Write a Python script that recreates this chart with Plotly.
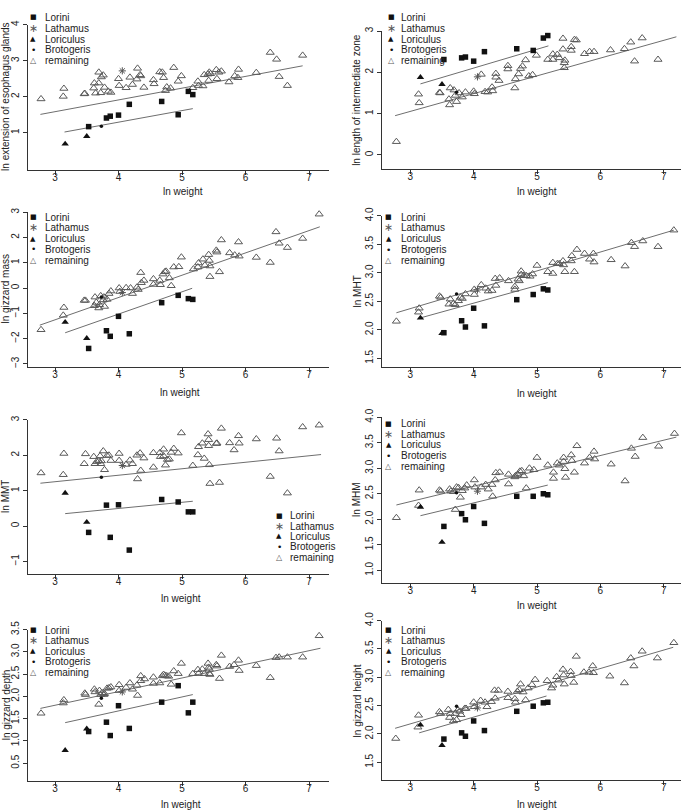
import plotly.graph_objects as go

W, H = 684, 812

# ---------------- data ----------------
weight_ticks = [3, 4, 5, 6, 7]
legend_labels = ["Lorini", "Lathamus", "Loriculus", "Brotogeris", "remaining"]

lorini_x = [3.53, 3.81, 3.87, 4.00, 4.17, 4.68, 4.94, 5.10, 5.17]
loriculus_x = [3.16, 3.50]
brotogeris_x = [3.73]
lathamus_x = [4.06]

# Panel 1: ln extension of esophagus glands
p1_rem_x = [2.78, 3.14, 3.13, 3.46, 3.47, 3.61, 3.62, 3.64, 3.69, 3.72, 3.69, 3.73, 3.76, 3.78, 3.84, 3.88,
            4.00, 4.01, 4.18, 4.12, 4.22, 4.29, 4.30, 4.34, 4.35, 4.40, 4.55, 4.56, 4.65, 4.69, 4.71, 4.74,
            4.76, 4.82, 4.87, 4.94, 4.99, 5.17, 5.25, 5.26, 5.33, 5.35, 5.41, 5.42, 5.43, 5.45, 5.54, 5.55,
            5.58, 5.62, 5.74, 5.83, 5.88, 5.89, 6.17, 6.39, 6.49, 6.53, 6.66, 6.90, 7.16]
p1_rem_y = [1.94, 2.23, 2.01, 2.08, 2.09, 2.24, 2.38, 2.10, 2.68, 2.11, 2.38, 2.55, 2.60, 2.26, 2.15, 2.12,
            2.50, 2.31, 2.54, 2.25, 2.34, 2.49, 2.79, 2.61, 2.58, 2.26, 2.47, 2.36, 2.69, 2.68, 2.53, 2.17,
            2.27, 2.24, 2.81, 2.43, 2.58, 2.25, 2.43, 2.31, 2.30, 2.61, 2.63, 2.45, 2.68, 2.64, 2.75, 2.50,
            2.68, 2.71, 2.41, 2.58, 2.53, 2.76, 2.67, 3.23, 3.04, 2.56, 2.31, 3.15, 4.13]
p1_lorini_y = [1.17, 1.41, 1.46, 1.49, 1.79, 1.87, 1.50, 2.15, 2.06]
p1_loriculus_y = [0.69, 0.90]
p1_brotogeris_y = [1.18]
p1_lathamus_y = [2.72]
p1_fit_rem_x, p1_fit_rem_y = [2.77, 6.90], [1.51, 2.86]
p1_fit_lor_x, p1_fit_lor_y = [3.15, 5.17], [1.02, 1.67]

# Panel 2: ln length of intermediate zone
p2_rem_x = [2.78, 3.13, 3.14, 3.46, 3.47, 3.61, 3.62, 3.63, 3.69, 3.71, 3.73, 3.77, 3.82, 3.87, 4.00, 4.01,
            4.12, 4.18, 4.22, 4.29, 4.30, 4.35, 4.35, 4.40, 4.54, 4.54, 4.65, 4.66, 4.71, 4.74, 4.77, 4.82,
            4.87, 4.93, 4.99, 5.17, 5.25, 5.25, 5.32, 5.35, 5.41, 5.41, 5.43, 5.44, 5.43, 5.54, 5.54, 5.59,
            5.62, 5.75, 5.83, 5.90, 5.89, 6.16, 6.38, 6.48, 6.54, 6.66, 6.91, 7.16]
p2_rem_y = [0.32, 1.47, 1.26, 1.51, 1.50, 1.35, 1.21, 1.62, 1.57, 1.44, 1.29, 1.50, 1.40, 1.52, 1.54, 1.48,
            1.95, 1.53, 1.52, 1.64, 1.55, 1.97, 1.88, 1.80, 2.16, 2.08, 1.62, 1.84, 1.96, 2.09, 2.15, 2.30,
            1.91, 1.94, 2.41, 2.31, 2.31, 2.44, 2.43, 2.35, 2.82, 2.56, 2.23, 2.29, 2.11, 2.53, 2.62, 2.79,
            2.78, 2.45, 2.50, 2.50, 3.18, 2.54, 2.57, 2.73, 2.27, 2.83, 2.31, 3.19]
p2_lorini_y = [2.31, 2.35, 2.37, 2.27, 2.50, 2.57, 2.53, 2.83, 2.89]
p2_loriculus_y = [1.88, 1.71]
p2_brotogeris_y = [1.52]
p2_lathamus_y = [1.89]
p2_fit_rem_x, p2_fit_rem_y = [2.76, 7.20], [0.95, 2.86]
p2_fit_lor_x, p2_fit_lor_y = [3.16, 5.18], [1.72, 2.64]

# Panel 3: ln gizzard mass
p3_rem_x = [2.78, 3.14, 3.13, 3.46, 3.48, 3.62, 3.63, 3.65, 3.69, 3.70, 3.72, 3.76, 3.77, 3.78, 3.82, 3.85,
            3.88, 4.01, 4.02, 4.12, 4.19, 4.22, 4.29, 4.31, 4.35, 4.36, 4.40, 4.55, 4.55, 4.65, 4.66, 4.70,
            4.73, 4.75, 4.80, 4.83, 4.87, 4.95, 4.99, 5.18, 5.25, 5.26, 5.33, 5.36, 5.42, 5.43, 5.44, 5.44,
            5.54, 5.55, 5.59, 5.62, 5.75, 5.83, 5.89, 5.90, 6.17, 6.39, 6.48, 6.53, 6.66, 6.90, 7.16]
p3_rem_y = [-1.65, -0.77, -1.08, -0.49, -0.49, -0.70, -0.36, -0.57, -0.79, -0.66, -0.31, -0.47, -0.36, -0.73,
            -0.45, -0.22, -0.12, 0.00, -0.14, 0.01, 0.00, -0.22, 0.03, -0.06, 0.61, 0.21, 0.30, 0.36, 0.14,
            0.30, 0.13, 0.55, 0.64, 0.66, 0.40, 0.09, 0.83, 0.84, 1.22, 0.75, 0.83, 0.99, 1.14, 0.90, 1.32,
            1.09, 0.87, 0.45, 1.49, 1.42, 0.64, 1.90, 1.39, 1.30, 1.82, 1.26, 1.21, 1.01, 2.22, 1.77, 1.60,
            1.96, 2.92]
p3_lorini_y = [-2.39, -1.69, -1.91, -1.12, -1.81, -0.58, -0.29, -0.42, -0.45]
p3_loriculus_y = [-1.35, -1.99]
p3_brotogeris_y = [-0.36]
p3_lathamus_y = [-0.18]
p3_fit_rem_x, p3_fit_rem_y = [2.76, 7.17], [-1.47, 2.42]
p3_fit_lor_x, p3_fit_lor_y = [3.16, 5.16], [-1.77, -0.01]

# Panel 4: ln MHT
p4_rem_x = [2.78, 3.14, 3.13, 3.46, 3.48, 3.61, 3.63, 3.68, 3.71, 3.76, 3.79, 3.82, 3.87, 4.01, 4.01, 4.12,
            4.19, 4.23, 4.29, 4.35, 4.34, 4.41, 4.55, 4.65, 4.65, 4.70, 4.72, 4.75, 4.75, 4.79, 4.83, 4.89,
            4.93, 5.00, 5.17, 5.25, 5.25, 5.32, 5.35, 5.41, 5.42, 5.44, 5.54, 5.55, 5.59, 5.63, 5.75, 5.83,
            5.89, 5.90, 6.17, 6.39, 6.49, 6.54, 6.67, 6.91, 7.16]
p4_rem_y = [2.15, 2.38, 2.31, 2.59, 2.57, 2.45, 2.54, 2.46, 2.44, 2.51, 2.57, 2.55, 2.63, 2.71, 2.62, 2.79,
            2.73, 2.68, 2.69, 2.78, 2.90, 2.91, 2.86, 2.76, 2.71, 2.89, 2.86, 3.03, 2.97, 2.95, 2.95, 2.94,
            2.98, 3.13, 3.02, 3.18, 2.99, 3.16, 3.16, 3.21, 3.14, 3.02, 3.21, 3.30, 3.02, 3.41, 3.34, 3.24,
            3.34, 3.19, 3.23, 3.12, 3.53, 3.46, 3.56, 3.46, 3.75]
p4_lorini_y = [1.95, 2.16, 2.05, 2.38, 2.07, 2.53, 2.62, 2.72, 2.70]
p4_loriculus_y = [2.21, 1.94]
p4_brotogeris_y = [2.63]
p4_lathamus_y = [2.70]
p4_fit_rem_x, p4_fit_rem_y = [2.78, 7.16], [2.30, 3.75]
p4_fit_lor_x, p4_fit_lor_y = [3.16, 5.17], [2.21, 2.83]

# Panel 5: ln MMT
p5_rem_x = [2.78, 3.14, 3.13, 3.46, 3.48, 3.61, 3.63, 3.66, 3.69, 3.71, 3.72, 3.73, 3.76, 3.78, 3.82, 3.85,
            3.88, 4.01, 4.01, 4.12, 4.18, 4.22, 4.29, 4.30, 4.34, 4.35, 4.40, 4.55, 4.55, 4.65, 4.66, 4.71,
            4.71, 4.74, 4.77, 4.80, 4.83, 4.87, 4.94, 4.99, 5.17, 5.25, 5.26, 5.32, 5.35, 5.41, 5.42, 5.42,
            5.43, 5.44, 5.54, 5.55, 5.59, 5.62, 5.75, 5.82, 5.89, 5.90, 6.17, 6.39, 6.49, 6.53, 6.66, 6.90,
            7.16]
p5_rem_y = [1.50, 2.05, 1.45, 1.76, 2.04, 1.96, 1.76, 1.82, 1.84, 1.98, 1.76, 1.84, 2.12, 1.59, 1.99, 2.00,
            1.85, 2.05, 1.85, 1.74, 1.86, 1.76, 2.00, 1.33, 2.06, 1.57, 1.92, 2.07, 1.66, 2.07, 1.96, 2.17,
            1.98, 1.72, 1.88, 1.89, 2.08, 2.19, 2.06, 2.63, 1.71, 2.01, 2.24, 2.34, 1.91, 2.60, 2.44, 2.27,
            1.73, 1.20, 2.33, 2.34, 1.23, 2.76, 2.35, 2.15, 2.55, 2.34, 2.46, 1.40, 2.48, 2.12, 0.93, 2.80,
            2.85]
p5_lorini_y = [-0.18, 0.59, -0.32, 0.60, -0.68, 0.75, 0.68, 0.40, 0.40]
p5_loriculus_y = [0.93, 0.11]
p5_brotogeris_y = [1.38]
p5_lathamus_y = [1.71]
p5_fit_rem_x, p5_fit_rem_y = [2.77, 7.19], [1.21, 2.02]
p5_fit_lor_x, p5_fit_lor_y = [3.16, 5.17], [0.35, 0.70]

# Panel 6: ln MHM
p6_rem_x = [2.78, 3.14, 3.13, 3.46, 3.48, 3.62, 3.64, 3.68, 3.71, 3.73, 3.76, 3.79, 3.82, 3.86, 3.89, 4.01,
            4.02, 4.12, 4.19, 4.23, 4.29, 4.30, 4.35, 4.41, 4.34, 4.55, 4.55, 4.65, 4.66, 4.70, 4.73, 4.76,
            4.79, 4.83, 4.88, 4.95, 5.00, 5.17, 5.26, 5.26, 5.32, 5.35, 5.42, 5.42, 5.44, 5.45, 5.54, 5.55,
            5.59, 5.63, 5.75, 5.83, 5.90, 5.91, 6.17, 6.39, 6.49, 6.55, 6.67, 6.92, 7.17]
p6_rem_y = [2.03, 2.57, 2.27, 2.57, 2.55, 2.59, 2.55, 2.54, 2.19, 2.63, 2.62, 2.43, 2.56, 2.61, 2.67, 2.77,
            2.63, 2.63, 2.68, 2.59, 2.68, 2.45, 2.91, 2.92, 2.77, 2.88, 2.69, 2.83, 2.85, 2.88, 2.94, 2.95,
            2.85, 2.61, 3.00, 2.97, 3.21, 3.06, 2.92, 2.80, 3.10, 3.06, 3.21, 3.13, 2.99, 2.82, 3.26, 3.15,
            2.92, 3.44, 3.10, 3.21, 3.33, 3.18, 3.08, 2.75, 3.39, 3.23, 3.60, 3.43, 3.68]
p6_lorini_y = [1.86, 2.11, 1.99, 2.25, 1.92, 2.45, 2.45, 2.50, 2.48]
p6_loriculus_y = [2.24, 1.55]
p6_brotogeris_y = [2.52]
p6_lathamus_y = [2.55]
p6_fit_rem_x, p6_fit_rem_y = [2.78, 7.20], [2.28, 3.61]
p6_fit_lor_x, p6_fit_lor_y = [3.16, 5.17], [2.07, 2.67]

# Panel 7: ln gizzard depth
p7_rem_x = [2.78, 3.14, 3.13, 3.47, 3.48, 3.62, 3.63, 3.69, 3.70, 3.72, 3.74, 3.77, 3.78, 3.82, 3.85, 3.88,
            4.01, 4.01, 4.12, 4.18, 4.22, 4.29, 4.30, 4.35, 4.35, 4.41, 4.55, 4.55, 4.65, 4.69, 4.71, 4.73,
            4.76, 4.79, 4.83, 4.87, 4.94, 4.99, 5.17, 5.25, 5.26, 5.32, 5.35, 5.41, 5.42, 5.43, 5.43, 5.44,
            5.54, 5.55, 5.59, 5.62, 5.75, 5.82, 5.89, 5.90, 6.17, 6.39, 6.48, 6.53, 6.66, 6.90, 7.16]
p7_rem_y = [1.62, 1.92, 1.85, 2.07, 2.04, 2.16, 2.10, 1.82, 2.13, 2.04, 2.08, 2.04, 2.06, 2.18, 2.19, 2.21,
            2.26, 2.13, 2.20, 2.30, 2.16, 2.25, 2.02, 2.46, 2.35, 2.39, 2.43, 2.29, 2.30, 2.46, 2.49, 2.47,
            2.46, 2.45, 2.27, 2.57, 2.51, 2.74, 2.51, 2.60, 2.51, 2.61, 2.51, 2.74, 2.65, 2.61, 2.51, 2.49,
            2.71, 2.68, 2.40, 2.92, 2.67, 2.71, 2.81, 2.58, 2.69, 2.42, 2.87, 2.88, 2.88, 2.88, 3.36]
p7_lorini_y = [1.21, 1.42, 1.12, 1.79, 1.28, 1.87, 2.24, 1.63, 1.87]
p7_loriculus_y = [0.79, 1.27]
p7_brotogeris_y = [1.96]
p7_lathamus_y = [2.10]
p7_fit_rem_x, p7_fit_rem_y = [2.77, 7.18], [1.73, 3.08]
p7_fit_lor_x, p7_fit_lor_y = [3.16, 5.17], [1.41, 2.04]

# Panel 8: ln gizzard height
p8_rem_x = [2.77, 3.13, 3.12, 3.46, 3.48, 3.60, 3.62, 3.63, 3.68, 3.71, 3.73, 3.75, 3.78, 3.80, 3.86, 3.88,
            4.00, 4.01, 4.11, 4.18, 4.21, 4.28, 4.33, 4.34, 4.39, 4.54, 4.54, 4.65, 4.66, 4.69, 4.72, 4.74,
            4.78, 4.86, 4.92, 4.97, 4.82, 5.16, 5.23, 5.25, 5.31, 5.34, 5.41, 5.42, 5.43, 5.53, 5.54, 5.58,
            5.62, 5.74, 5.82, 5.88, 5.89, 6.15, 6.38, 6.48, 6.53, 6.66, 6.90, 7.16]
p8_rem_y = [1.92, 2.33, 2.12, 2.39, 2.36, 2.43, 2.29, 2.36, 2.23, 2.36, 2.25, 2.42, 2.40, 2.34, 2.45, 2.45,
            2.56, 2.48, 2.59, 2.56, 2.48, 2.57, 2.77, 2.63, 2.77, 2.75, 2.64, 2.62, 2.56, 2.75, 2.78, 2.88,
            2.74, 2.81, 2.87, 2.96, 2.60, 2.94, 2.81, 2.86, 3.01, 2.95, 3.14, 3.04, 2.88, 3.10, 3.03, 2.91,
            3.37, 3.09, 3.09, 3.20, 3.08, 3.02, 2.90, 3.34, 3.20, 3.46, 3.34, 3.61]
p8_lorini_y = [1.91, 2.02, 1.96, 2.23, 2.06, 2.40, 2.49, 2.55, 2.56]
p8_loriculus_y = [2.16, 1.80]
p8_brotogeris_y = [2.49]
p8_lathamus_y = [2.46]
p8_fit_rem_x, p8_fit_rem_y = [2.76, 7.15], [2.10, 3.53]
p8_fit_lor_x, p8_fit_lor_y = [3.14, 5.15], [2.02, 2.67]

y_titles = ["ln extension of esophagus glands", "ln length of intermediate zone", "ln gizzard mass",
            "ln MHT", "ln MMT", "ln MHM", "ln gizzard depth", "ln gizzard height"]
y_ticks = [[1, 2, 3, 4], [0, 1, 2, 3], [-3, -2, -1, 0, 1, 2, 3], [1.5, 2.0, 2.5, 3.0, 3.5, 4.0],
           [-1, 0, 1, 2, 3], [1.0, 1.5, 2.0, 2.5, 3.0, 3.5, 4.0], [0.5, 1.0, 1.5, 2.0, 2.5, 3.0, 3.5],
           [1.5, 2.0, 2.5, 3.0, 3.5, 4.0]]

# ---------------- layout geometry (pixels) ----------------
geom = [
    dict(px=(27.7, 329), py=(16, 162.7), xr=(2.570, 7.315), yr=(-0.027, 4.0), fmt=None),
    dict(px=(382, 681), py=(22.3, 162.3), xr=(2.553, 7.273), yr=(-0.349, 3.0), fmt=None),
    dict(px=(27.7, 329), py=(205.7, 362.7), xr=(2.570, 7.315), yr=(-3.133, 3.0), fmt=None),
    dict(px=(382, 681), py=(209.5, 362.7), xr=(2.553, 7.273), yr=(1.344, 4.0), fmt=".1f"),
    dict(px=(27.7, 329), py=(416, 572.3), xr=(2.570, 7.315), yr=(-1.363, 3.0), fmt=None),
    dict(px=(382, 681), py=(413.3, 581), xr=(2.553, 7.273), yr=(0.754, 4.0), fmt=".1f"),
    dict(px=(27.7, 329), py=(628.3, 781.2), xr=(2.570, 7.315), yr=(0.109, 3.5), fmt=".1f"),
    dict(px=(382, 681), py=(619.3, 780.7), xr=(2.553, 7.273), yr=(1.186, 4.0), fmt=".1f"),
]
xtitle_pos = [(183, 185), (537, 185), (180, 388), (537, 389), (181, 597), (537, 604), (181, 805), (537, 805)]
ytitle_pos = [(6, 89), (357, 92), (6, 284), (357, 286), (6, 494), (357, 497), (6, 705), (357, 700)]
legend_pos = [(33, 43, 8.5, 11), (391, 399, 8.5, 11), (33, 43, 210.7, 10.9), (389, 399, 210.7, 11),
              (279, 288, 513, 10.5), (389, 399, 420, 10.7), (33, 43, 629, 10.7), (389, 399, 629, 10.7)]

panels = [
    (p1_rem_x, p1_rem_y, p1_lorini_y, p1_loriculus_y, p1_brotogeris_y, p1_lathamus_y,
     p1_fit_rem_x, p1_fit_rem_y, p1_fit_lor_x, p1_fit_lor_y),
    (p2_rem_x, p2_rem_y, p2_lorini_y, p2_loriculus_y, p2_brotogeris_y, p2_lathamus_y,
     p2_fit_rem_x, p2_fit_rem_y, p2_fit_lor_x, p2_fit_lor_y),
    (p3_rem_x, p3_rem_y, p3_lorini_y, p3_loriculus_y, p3_brotogeris_y, p3_lathamus_y,
     p3_fit_rem_x, p3_fit_rem_y, p3_fit_lor_x, p3_fit_lor_y),
    (p4_rem_x, p4_rem_y, p4_lorini_y, p4_loriculus_y, p4_brotogeris_y, p4_lathamus_y,
     p4_fit_rem_x, p4_fit_rem_y, p4_fit_lor_x, p4_fit_lor_y),
    (p5_rem_x, p5_rem_y, p5_lorini_y, p5_loriculus_y, p5_brotogeris_y, p5_lathamus_y,
     p5_fit_rem_x, p5_fit_rem_y, p5_fit_lor_x, p5_fit_lor_y),
    (p6_rem_x, p6_rem_y, p6_lorini_y, p6_loriculus_y, p6_brotogeris_y, p6_lathamus_y,
     p6_fit_rem_x, p6_fit_rem_y, p6_fit_lor_x, p6_fit_lor_y),
    (p7_rem_x, p7_rem_y, p7_lorini_y, p7_loriculus_y, p7_brotogeris_y, p7_lathamus_y,
     p7_fit_rem_x, p7_fit_rem_y, p7_fit_lor_x, p7_fit_lor_y),
    (p8_rem_x, p8_rem_y, p8_lorini_y, p8_loriculus_y, p8_brotogeris_y, p8_lathamus_y,
     p8_fit_rem_x, p8_fit_rem_y, p8_fit_lor_x, p8_fit_lor_y),
]

TXT = "#222222"
AXC = "#333333"
GRAY = "#5a5a5a"
FONT = "Liberation Sans, Arial, Helvetica, sans-serif"
SYMFONT = "DejaVu Sans, sans-serif"


def fx(px):
    return px / W


def fy(py):
    return 1 - py / H


fig = go.Figure()
annotations = []
layout_axes = {}

for i, (pan, g) in enumerate(zip(panels, geom)):
    n = i + 1
    xa = "x" if n == 1 else f"x{n}"
    ya = "y" if n == 1 else f"y{n}"
    rem_x, rem_y, lor_y, loc_y, bro_y, lat_y, frx, fry, flx, fly = pan

    fig.add_trace(go.Scatter(x=frx, y=fry, mode="lines", line=dict(color="#6e6e6e", width=1),
                             xaxis=xa, yaxis=ya, showlegend=False, hoverinfo="skip"))
    fig.add_trace(go.Scatter(x=flx, y=fly, mode="lines", line=dict(color="#6e6e6e", width=1),
                             xaxis=xa, yaxis=ya, showlegend=False, hoverinfo="skip"))
    fig.add_trace(go.Scatter(x=rem_x, y=rem_y, mode="markers", name="remaining",
                             marker=dict(symbol="triangle-up-open", size=7, color=GRAY,
                                         line=dict(width=1, color=GRAY)),
                             xaxis=xa, yaxis=ya, showlegend=False, cliponaxis=False))
    fig.add_trace(go.Scatter(x=lorini_x, y=lor_y, mode="markers", name="Lorini",
                             marker=dict(symbol="square", size=5.5, color="#111111"),
                             xaxis=xa, yaxis=ya, showlegend=False, cliponaxis=False))
    fig.add_trace(go.Scatter(x=loriculus_x, y=loc_y, mode="markers", name="Loriculus",
                             marker=dict(symbol="triangle-up", size=6.5, color="#111111"),
                             xaxis=xa, yaxis=ya, showlegend=False, cliponaxis=False))
    fig.add_trace(go.Scatter(x=brotogeris_x, y=bro_y, mode="markers", name="Brotogeris",
                             marker=dict(symbol="circle", size=3.5, color="#111111"),
                             xaxis=xa, yaxis=ya, showlegend=False, cliponaxis=False))
    fig.add_trace(go.Scatter(x=lathamus_x, y=lat_y, mode="markers", name="Lathamus",
                             marker=dict(symbol="asterisk-open", size=6, color="#555555",
                                         line=dict(width=1, color="#555555")),
                             xaxis=xa, yaxis=ya, showlegend=False, cliponaxis=False))

    common = dict(showline=True, linecolor=AXC, linewidth=1, ticks="outside", ticklen=4,
                  tickcolor=AXC, tickwidth=1, showgrid=False, zeroline=False,
                  tickfont=dict(family=FONT, size=10, color=TXT), mirror=False)
    xkey = "xaxis" if n == 1 else f"xaxis{n}"
    ykey = "yaxis" if n == 1 else f"yaxis{n}"
    layout_axes[xkey] = dict(common, domain=[fx(g["px"][0]), fx(g["px"][1])], range=list(g["xr"]),
                             anchor=ya, tickmode="array", tickvals=weight_ticks, ticklabelstandoff=-6)
    yax = dict(common, domain=[fy(g["py"][1]), fy(g["py"][0])], range=list(g["yr"]),
               anchor=xa, tickmode="array", tickvals=y_ticks[i], tickangle=-90)
    if g["fmt"]:
        yax["tickformat"] = g["fmt"]
    layout_axes[ykey] = yax

    tx, ty = xtitle_pos[i]
    annotations.append(dict(x=fx(tx), y=fy(ty), xref="paper", yref="paper", text="ln weight",
                            showarrow=False, font=dict(family=FONT, size=10, color=TXT),
                            xanchor="center", yanchor="middle"))
    tx, ty = ytitle_pos[i]
    annotations.append(dict(x=fx(tx), y=fy(ty), xref="paper", yref="paper", text=y_titles[i],
                            showarrow=False, textangle=-90, font=dict(family=FONT, size=10, color=TXT),
                            xanchor="center", yanchor="middle"))

    sx, lx, ly0, step = legend_pos[i]
    glyphs = [("\u25A0", 7, "#111111"), ("\u2217", 11, "#555555"), ("\u25B2", 7, "#111111"),
              ("\u2022", 9, "#111111"), ("\u25B3", 8, GRAY)]
    for k, lab in enumerate(legend_labels):
        yy = ly0 + k * step
        gch, gsz, gcol = glyphs[k]
        annotations.append(dict(x=fx(sx), y=fy(yy), xref="paper", yref="paper", text=gch,
                                showarrow=False, font=dict(family=SYMFONT, size=gsz, color=gcol),
                                xanchor="center", yanchor="middle"))
        annotations.append(dict(x=fx(lx), y=fy(yy), xref="paper", yref="paper", text=lab,
                                showarrow=False, font=dict(family=FONT, size=10, color=TXT),
                                xanchor="left", yanchor="middle"))

fig.update_layout(width=W, height=H, margin=dict(l=0, r=0, t=0, b=0),
                  paper_bgcolor="white", plot_bgcolor="white", showlegend=False,
                  annotations=annotations, **layout_axes)

fig.write_html("out.html")
